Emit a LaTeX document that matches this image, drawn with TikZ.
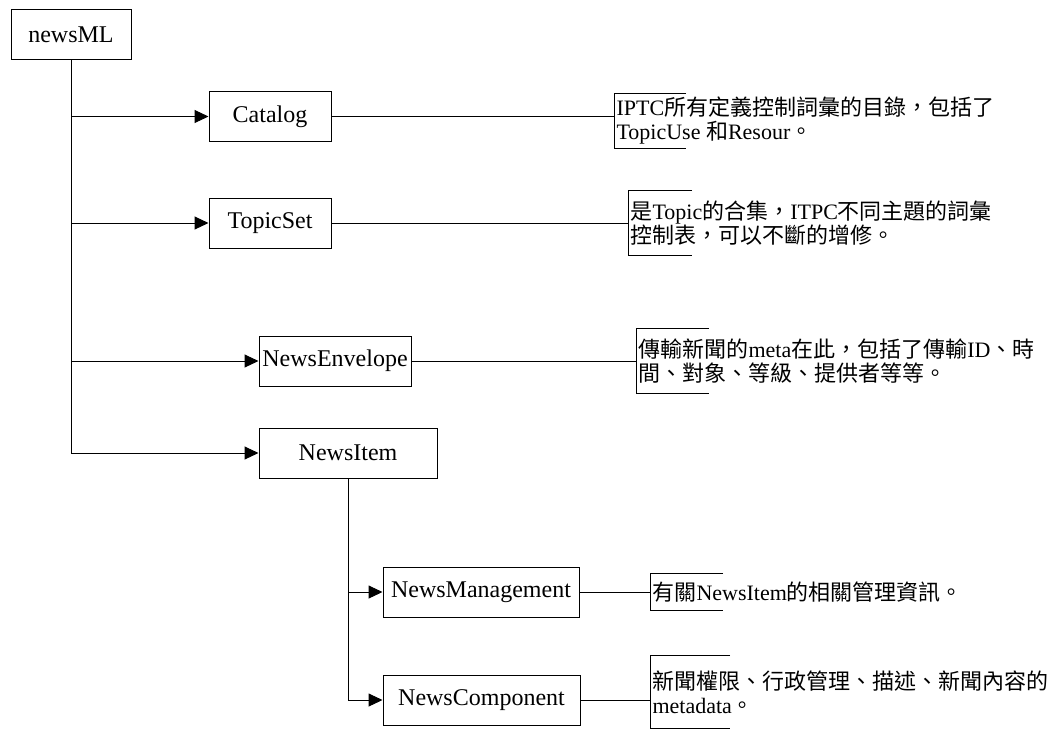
\documentclass[tikz,border=0pt]{standalone}
\usepackage{fontspec}
\setmainfont{Liberation Serif}
\newfontfamily\cjk{Noto Sans CJK TC}
\usetikzlibrary{arrows.meta}
\newcommand\zh[1]{{\cjk #1}}

\begin{document}
\begin{tikzpicture}
  [
    x=0.5pt, y=-0.5pt,
    line width=0.5pt,
    box/.style={draw,minimum height=25pt,inner sep=0pt,font=\fontsize{12}{14}\selectfont},
    note/.style={anchor=west,inner xsep=1pt,inner ysep=0pt,align=left,font=\fontsize{11}{12}\selectfont},
    arr/.style={-{Triangle[length=7pt,width=6.5pt]}}
  ]
  \useasboundingbox (0,0) rectangle (1063,729);

  % boxes
  \node[box,minimum width=60pt] (newsML) at (71,34.5) {newsML};
  \node[box,minimum width=61pt] (Catalog) at (270,116.5) {Catalog};
  \node[box,minimum width=61pt] (TopicSet) at (270,223) {TopicSet};
  \node[box,minimum width=76pt] (Envelope) at (335,361) {NewsEnvelope};
  \node[box,minimum width=89pt] (Item) at (348,453) {NewsItem};
  \node[box,minimum width=98pt] (Management) at (481,592) {NewsManagement};
  \node[box,minimum width=98.5pt] (Component) at (481.5,700) {NewsComponent};

  % notes
  \node[note,minimum height=27pt] (catnote) at (614,121)
    {IPTC\zh{所有定義控制詞彙的目錄，包括了}\\TopicUse \zh{和}Resour\zh{。}};
  \node[note,minimum height=32pt] (topicnote) at (628,223)
    {\zh{是}Topic\zh{的合集，}ITPC\zh{不同主題的詞彙}\\\zh{控制表，可以不斷的增修。}};
  \node[note,minimum height=32pt] (envnote) at (636,361)
    {\zh{傳輸新聞的}meta\zh{在此，包括了傳輸}ID\zh{、時}\\\zh{間、對象、等級、提供者等等。}};
  \node[note,minimum height=18pt] (mgmtnote) at (650,592)
    {\zh{有關}NewsItem\zh{的相關管理資訊。}};
  \node[note,minimum height=36pt,text depth=-5pt] (compnote) at (650,692)
    {\zh{新聞權限、行政管理、描述、新聞內容的}\\metadata\zh{。}};

  % tree
  \draw[arr] (newsML.south) |- (Catalog.west);
  \draw[arr] (newsML.south) |- (TopicSet.west);
  \draw[arr] (newsML.south) |- (Envelope.west);
  \draw[arr] (newsML.south) |- (Item.west);
  \draw[arr] (Item.south) |- (Management.west);
  \draw[arr] (Item.south) |- (Component.west);

  % lines to the notes
  \draw (Catalog.east) -- (Catalog.east -| catnote.west);
  \draw (TopicSet.east) -- (TopicSet.east -| topicnote.west);
  \draw (Envelope.east) -- (Envelope.east -| envnote.west);
  \draw (Management.east) -- (Management.east -| mgmtnote.west);
  \draw (Component.east) -- (Component.east -| compnote.west);

  % brackets
  \draw ([xshift=36pt]catnote.north west) -- (catnote.north west) -- (catnote.south west) -- ++(36pt,0);
  \draw ([xshift=32pt]topicnote.north west) -- (topicnote.north west) -- (topicnote.south west) -- ++(32pt,0);
  \draw ([xshift=36.5pt]envnote.north west) -- (envnote.north west) -- (envnote.south west) -- ++(36.5pt,0);
  \draw ([xshift=36.5pt]mgmtnote.north west) -- (mgmtnote.north west) -- (mgmtnote.south west) -- ++(36.5pt,0);
  \draw ([xshift=40pt]compnote.north west) -- (compnote.north west) -- (compnote.south west) -- ++(40pt,0);
\end{tikzpicture}
\end{document}
